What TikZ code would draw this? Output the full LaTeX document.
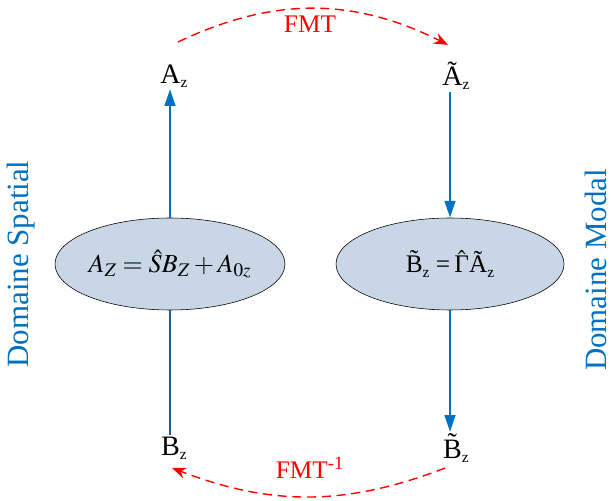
\documentclass[tikz,border=0pt]{standalone}
\usepackage{mathptmx}
\usepackage{fontspec}
\setmainfont{Liberation Serif}
\usepackage{xcolor}
\usetikzlibrary{arrows.meta,positioning,shapes.geometric}
\definecolor{domainblue}{HTML}{0070C0}
\definecolor{spatialdark}{HTML}{1F5C99}
\definecolor{eqfill}{HTML}{C9D6E6}
\newcommand{\subz}{{\fontsize{11}{11}\selectfont\raisebox{-0.6ex}{z}}}

\begin{document}
\begin{tikzpicture}[
    varlabel/.style={inner sep=1pt,font=\fontsize{20}{20}\selectfont},
    eqbox/.style={ellipse,draw=black,thin,fill=eqfill,minimum width=5.7cm,minimum height=2.3cm,inner sep=0pt},
    bluearrow/.style={domainblue,line width=2pt,-{Triangle[length=12pt,width=7.5pt]}},
    fmtarrow/.style={red,line width=1pt,dash pattern=on 6.5pt off 4pt,-{Stealth[length=10pt,width=8pt]}},
    fmtlabel/.style={red,font=\fontsize{18}{18}\selectfont},
    domainlabel/.style={domainblue,rotate=90,inner sep=0pt,font=\fontsize{22}{22}\selectfont}]
  \useasboundingbox (0,0) rectangle (15.275,12.5);
  % equations
  \node[eqbox] (eqL) at (4.25,5.9) {\fontsize{18.5}{18.5}\selectfont$A_Z = \hat{S}B_Z + A_{0z}$};
  \node[eqbox] (eqR) at (11.25,5.9) {\fontsize{18}{18}\selectfont\~{B}\subz\ =\,$\hat{\mbox{Γ}}$\~{A}\subz};
  % variables
  \node[varlabel] (Az) at (4.35,10.6) {A\subz};
  \node[varlabel] (Atz) at (11.4,10.6) {\~{A}\subz};
  \node[varlabel] (Bz) at (4.35,1.3) {B\subz};
  \node[varlabel] (Btz) at (11.4,1.3) {\~{B}\subz};
  % vertical connectors
  \draw[spatialdark,line width=2pt] (eqL.south) -- (eqL.south |- Bz.north);
  \draw[bluearrow] (eqL.north) -- (eqL.north |- Az.south);
  \draw[bluearrow] (eqR.north |- Atz.south) -- (eqR.north);
  \draw[bluearrow] (eqR.south) -- (eqR.south |- Btz.north);
  % transforms
  \coordinate (fmtS) at (4.45,11.45);
  \coordinate (fmtE) at (11.2,11.38);
  \coordinate (ifmtS) at (11.13,0.8);
  \coordinate (ifmtE) at (4.3,0.8);
  \draw[fmtarrow] (fmtS) to[bend left=26] (fmtE);
  \draw[fmtarrow] (ifmtS) to[bend left=21] (ifmtE);
  \node[fmtlabel] (fmt) at (7.75,11.9) {FMT};
  \node[fmtlabel] (ifmt) at (7.75,0.8) {FMT\textsuperscript{-1}};
  % domains
  \node[domainlabel] (spatial) at (0.52,5.9) {Domaine Spatial};
  \node[domainlabel] (modal) at (14.9,5.75) {Domaine Modal};
\end{tikzpicture}
\end{document}
